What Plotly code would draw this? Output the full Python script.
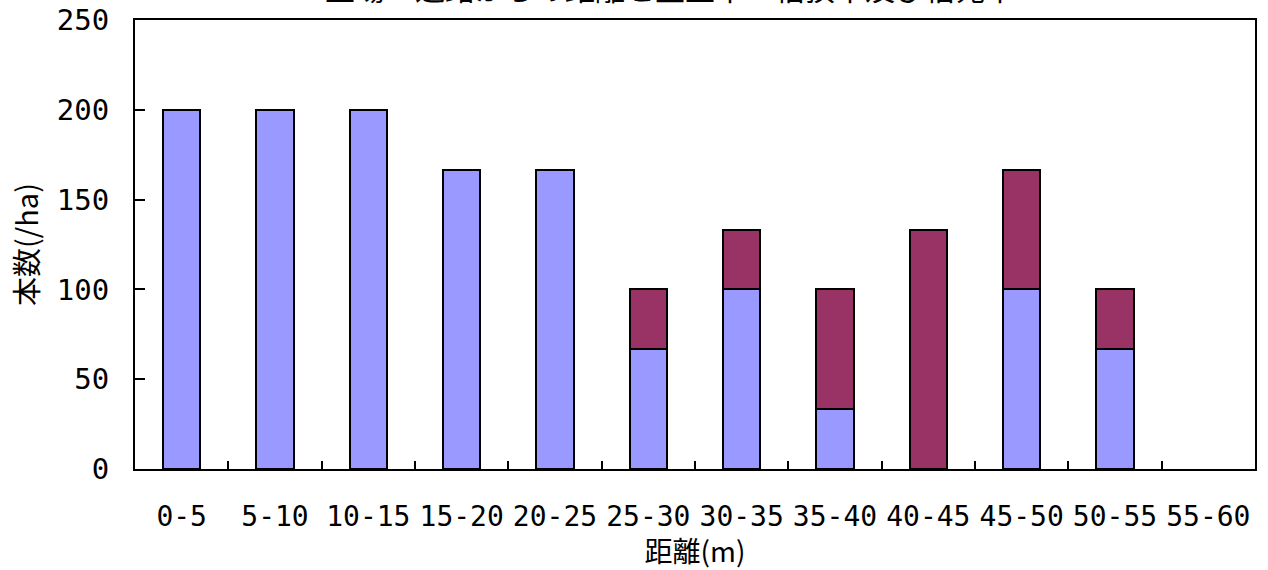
import plotly.graph_objects as go

categories = ["0-5", "5-10", "10-15", "15-20", "20-25", "25-30", "30-35",
              "35-40", "40-45", "45-50", "50-55", "55-60"]
live_trees = [200, 200, 200, 166.7, 166.7, 66.7, 100, 33.3, None, 100, 66.7, None]
dead_trees = [None, None, None, None, None, 33.3, 33.3, 66.7, 133.3, 66.7, 33.3, None]
y_ticks = [0, 50, 100, 150, 200, 250]

title_text = "土場・道路からの距離と生立木・枯損木及び枯死木"
x_title = "距離(m)"
y_title = "本数(/ha)"

FONT = "Noto Sans CJK JP, Noto Sans, sans-serif"
MONO = "DejaVu Sans Mono, Noto Sans CJK JP, monospace"

fig = go.Figure()
fig.add_trace(go.Bar(
    x=categories, y=live_trees, name="生立木",
    marker=dict(color="#9999FF", line=dict(color="black", width=2)),
))
fig.add_trace(go.Bar(
    x=categories, y=dead_trees, name="枯死木",
    marker=dict(color="#993366", line=dict(color="black", width=2)),
))

fig.update_layout(
    barmode="stack",
    bargap=0.6,
    width=1268, height=570,
    margin=dict(l=135, r=13, t=20, b=101),
    paper_bgcolor="white", plot_bgcolor="white",
    showlegend=False,
    font=dict(family=FONT, size=28, color="black"),
    title=dict(text=title_text, x=670 / 1268, xanchor="center",
               y=1.0, yanchor="bottom", yref="container",
               font=dict(family=FONT, size=30, color="black")),
)
fig.update_xaxes(
    type="category",
    automargin=False,
    tickson="boundaries",
    tickangle=0,
    ticks="inside", ticklen=8, tickwidth=1.5, tickcolor="black",
    showline=True, linecolor="black", linewidth=2, mirror=True,
    showgrid=False,
    tickfont=dict(family=MONO, size=28, color="black"),
    ticklabelstandoff=21,
    title=dict(text=x_title, font=dict(family=FONT, size=28, color="black"), standoff=0),
)
fig.update_yaxes(
    range=[0, 250],
    automargin=False,
    tickvals=y_ticks,
    ticks="inside", ticklen=10, tickwidth=1.5, tickcolor="black",
    showline=True, linecolor="black", linewidth=2, mirror=True,
    showgrid=False, zeroline=False,
    tickfont=dict(family=MONO, size=29, color="black"),
    ticklabelstandoff=18,
    title=dict(text=y_title, font=dict(family=FONT, size=29, color="black"), standoff=10),
)

fig.write_html("out.html", config={"displayModeBar": False},
               post_script="document.body.style.margin='0';")
